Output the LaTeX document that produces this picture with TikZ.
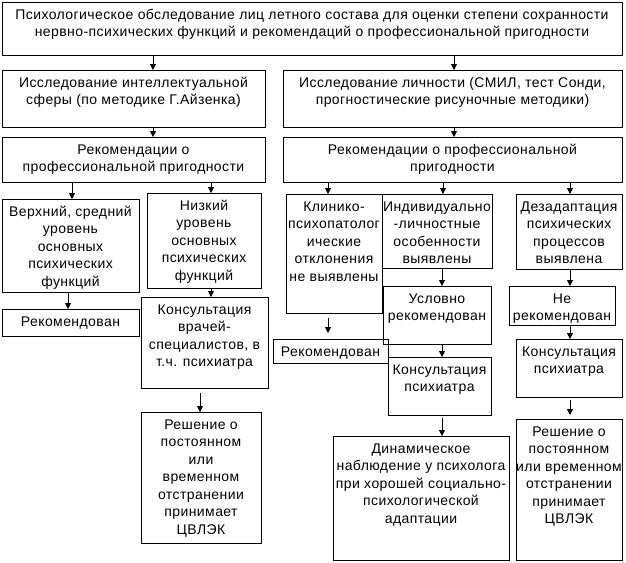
\documentclass[tikz,border=0pt]{standalone}
\usepackage{fontspec}
\setmainfont[LetterSpace=3]{Liberation Sans}
\usetikzlibrary{arrows.meta}
\newcommand{\fbx}[6]{%
  \node[bx] (#1) at ({(#2+#4)/2},{(#3+#5)/2})
  {\parbox[c][\dimexpr#5pt-#3pt\relax][t]{\dimexpr#4pt-#2pt\relax}{\centering\fontsize{14pt}{17.5pt}\selectfont\rule{0pt}{17pt}#6}};}
\tikzset{
  bx/.style={draw=black, line width=0.8pt, inner sep=0pt, outer sep=0pt},
  arr/.style={-{Triangle[width=6pt,length=6pt]}, line width=0.8pt, draw=black}
}
\begin{document}
\begin{tikzpicture}[x=1pt,y=-1pt]
\useasboundingbox (0,0) rectangle (626,562);
\fill[white] (0,0) rectangle (626,562);
\fbx{top}{2}{2}{622}{55}{Психологическое обследование лиц летного состава для оценки степени сохранности\\нервно-психических функций и рекомендаций о профессиональной пригодности}
\fbx{isL}{2}{70}{265}{127}{Исследование интеллектуальной\\сферы (по методике Г.Айзенка)}
\fbx{isR}{283}{70}{622}{127}{Исследование личности (СМИЛ, тест Сонди,\\прогностические рисуночные методики)}
\fbx{recL}{2}{137}{265}{182}{Рекомендации о\\профессиональной пригодности}
\fbx{recR}{283}{137}{622}{182}{Рекомендации о профессиональной\\пригодности}
\fbx{verh}{2}{199}{139}{292}{Верхний, средний\\уровень\\основных\\психических\\функций}
\fbx{nizk}{147}{193}{261}{288}{Низкий\\уровень\\основных\\психических\\функций}
\fbx{recmL}{2}{309}{139}{336}{Рекомендован}
\fbx{konsL}{141}{297}{268}{388}{Консультация\\врачей-\\специалистов, в\\т.ч. психиатра}
\fbx{resL}{141}{412}{261}{543}{Решение о\\постоянном\\или\\временном\\отстранении\\принимает\\ЦВЛЭК}
\fbx{klin}{286}{194}{382}{313}{Клинико-\\психопатолог\\ические\\отклонения\\не выявлены}
\fbx{ind}{382}{194}{492}{268}{\makebox[0pt]{Индивидуально}\\-личностные\\особенности\\выявлены}
\fbx{dez}{516}{194}{622}{269}{Дезадаптация\\психических\\процессов\\выявлена}
\fbx{usl}{383}{286}{491}{344}{Условно\\рекомендован}
\fbx{nerek}{509}{286}{615}{325}{Не\\рекомендован}
\fbx{recmR}{273}{339}{388}{363}{Рекомендован}
\fbx{kpm}{388}{357}{491}{415}{Консультация\\психиатра}
\fbx{kpr}{516}{339}{622}{397}{Консультация\\психиатра}
\fbx{din}{333}{436}{509}{560}{Динамическое\\наблюдение у психолога\\при хорошей социально-\\психологической\\адаптации}
\fbx{resR}{516}{419}{622}{560}{Решение о\\постоянном\\\makebox[0pt]{или временном}\\отстранении\\принимает\\ЦВЛЭК}
% connectors
\draw[arr] (top.south -| 153,0) -- (isL.north -| 153,0);
\draw[arr] (top.south -| 454,0) -- (isR.north -| 454,0);
\draw[arr] (isL.south -| 153,0) -- (recL.north -| 153,0);
\draw[arr] (isR.south -| 454,0) -- (recR.north -| 454,0);
\draw[arr] (recL.south -| 72,0) -- (verh.north -| 72,0);
\draw[arr] (recL.south -| 211,0) -- (nizk.north -| 211,0);
\draw[arr] (verh.south -| 68,0) -- (recmL.north -| 68,0);
\draw[arr] (nizk.south -| 211,0) -- (konsL.north -| 211,0);
\draw[arr, shorten <=5pt] (konsL.south -| 200,0) -- (resL.north -| 200,0);
\draw[arr] (recR.south -| 328,0) -- (klin.north -| 328,0);
\draw[arr] (recR.south -| 443,0) -- (ind.north -| 443,0);
\draw[arr] (recR.south -| 570,0) -- (dez.north -| 570,0);
\draw[arr] (ind.south -| 442,0) -- (usl.north -| 442,0);
\draw[arr] (dez.south -| 570,0) -- (nerek.north -| 570,0);
\draw[arr, shorten <=5pt, shorten >=6pt] (klin.south -| 328,0) -- (recmR.north -| 328,0);
\draw[arr] (usl.south -| 442,0) -- (kpm.north -| 442,0);
\draw[arr] (nerek.south -| 570,0) -- (kpr.north -| 570,0);
\draw[arr, shorten <=3pt] (kpm.south -| 442,0) -- (din.north -| 442,0);
\draw[arr, shorten <=3pt, shorten >=4pt] (kpr.south -| 570,0) -- (resR.north -| 570,0);
\end{tikzpicture}
\end{document}
